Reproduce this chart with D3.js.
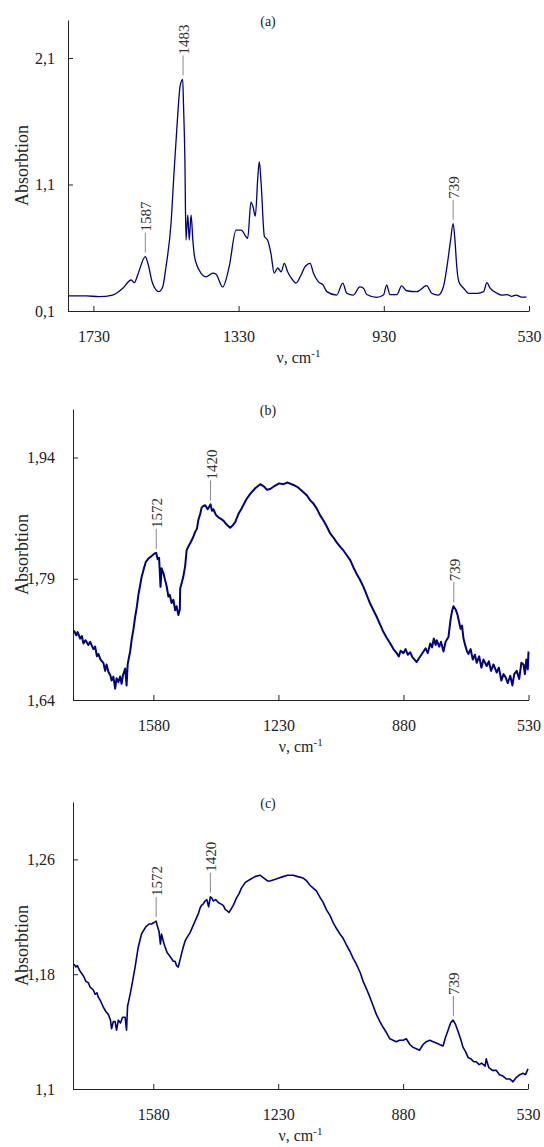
<!DOCTYPE html>
<html>
<head>
<meta charset="UTF-8">
<script src="https://cdn.jsdelivr.net/npm/d3@7"></script>
<style>
  body { margin: 0; background: #fff; }
  svg { display: block; font-family: "Liberation Serif", "Times New Roman", serif; }
</style>
</head>
<body>
<svg id="chart" width="544" height="1147"></svg>
<script>
// spectrum (a): [wavenumber, absorption]
const specA = [
  [1798,0.22],[1750,0.22],[1715,0.213],[1677,0.226],[1649,0.28],[1626,0.345],[1617,0.324],
  [1608,0.385],[1587,0.53],[1580,0.477],[1567,0.319],[1550,0.253],[1539,0.292],[1530,0.45],
  [1516,0.80],[1508,1.19],[1500,1.55],[1491,1.88],[1484,1.93],[1482,1.75],[1478,1.3],
  [1475,0.66],[1470,0.86],[1466,0.66],[1461,0.86],[1456,0.66],[1452,0.54],[1438,0.42],
  [1420,0.37],[1401,0.40],[1392,0.39],[1374,0.29],[1356,0.45],[1337,0.74],[1323,0.74],
  [1305,0.675],[1296,0.96],[1290,0.92],[1284,0.85],[1277,1.16],[1273,1.28],[1268,1.11],
  [1259,0.69],[1250,0.66],[1241,0.556],[1232,0.40],[1222,0.44],[1213,0.41],[1204,0.477],
  [1195,0.41],[1181,0.345],[1172,0.32],[1158,0.385],[1147,0.45],[1133,0.477],[1124,0.40],
  [1110,0.33],[1097,0.305],[1087,0.253],[1060,0.226],[1043,0.32],[1032,0.24],[1014,0.226],
  [996,0.29],[986,0.28],[977,0.23],[950,0.208],[931,0.226],[922,0.305],[913,0.23],[894,0.23],
  [881,0.298],[867,0.26],[839,0.253],[812,0.30],[798,0.24],[780,0.226],[766,0.29],[756,0.45],
  [746,0.66],[739,0.79],[734,0.66],[729,0.45],[723,0.33],[710,0.28],[696,0.24],[673,0.24],
  [655,0.253],[646,0.324],[637,0.28],[618,0.24],[605,0.226],[590,0.23],[578,0.216],
  [565,0.226],[551,0.21],[537,0.21]
];

// spectrum (b)
const specB = [
  [1802,1.726],[1796,1.720],[1792,1.724],[1785,1.716],[1780,1.719],[1776,1.710],[1770,1.714],
  [1762,1.708],[1757,1.712],[1748,1.703],[1743,1.706],[1738,1.694],[1734,1.697],[1728,1.690],
  [1720,1.686],[1715,1.676],[1711,1.684],[1706,1.675],[1700,1.670],[1697,1.664],[1692,1.669],
  [1687,1.654],[1683,1.667],[1678,1.662],[1673,1.669],[1669,1.660],[1665,1.671],[1659,1.679],
  [1655,1.658],[1652,1.684],[1650,1.689],[1645,1.700],[1641,1.714],[1636,1.727],[1631,1.743],
  [1626,1.756],[1622,1.770],[1617,1.782],[1613,1.792],[1607,1.802],[1601,1.811],[1594,1.815],
  [1585,1.818],[1578,1.821],[1572,1.822],[1568,1.814],[1564,1.816],[1560,1.780],[1557,1.803],
  [1552,1.797],[1547,1.788],[1543,1.781],[1538,1.768],[1534,1.770],[1529,1.760],[1524,1.764],
  [1519,1.751],[1515,1.756],[1510,1.745],[1506,1.752],[1505,1.778],[1500,1.786],[1496,1.793],
  [1491,1.806],[1487,1.825],[1482,1.830],[1477,1.834],[1470,1.840],[1463,1.848],[1458,1.852],
  [1454,1.863],[1449,1.870],[1445,1.878],[1440,1.880],[1435,1.881],[1428,1.876],[1420,1.882],
  [1416,1.874],[1412,1.876],[1405,1.869],[1398,1.866],[1391,1.864],[1384,1.862],[1375,1.857],
  [1365,1.853],[1358,1.856],[1351,1.860],[1342,1.870],[1333,1.877],[1320,1.888],[1309,1.895],
  [1295,1.902],[1281,1.907],[1270,1.904],[1262,1.900],[1253,1.901],[1240,1.905],[1228,1.908],
  [1216,1.907],[1204,1.909],[1188,1.906],[1175,1.903],[1160,1.897],[1150,1.893],[1141,1.887],
  [1132,1.883],[1123,1.877],[1114,1.869],[1104,1.862],[1095,1.855],[1085,1.846],[1076,1.841],
  [1067,1.835],[1058,1.830],[1048,1.825],[1040,1.820],[1029,1.813],[1020,1.804],[1011,1.796],
  [1002,1.789],[992,1.780],[983,1.770],[973,1.759],[964,1.751],[955,1.743],[945,1.733],
  [936,1.724],[927,1.717],[917,1.710],[908,1.703],[899,1.698],[893,1.694],[888,1.701],
  [880,1.698],[874,1.703],[868,1.696],[861,1.699],[855,1.693],[849,1.690],[843,1.687],
  [836,1.692],[830,1.696],[824,1.700],[818,1.704],[812,1.698],[805,1.710],[800,1.705],
  [795,1.716],[790,1.708],[787,1.714],[780,1.706],[775,1.712],[768,1.700],[762,1.712],
  [754,1.718],[748,1.740],[744,1.750],[740,1.756],[734,1.752],[729,1.746],[726,1.740],
  [720,1.728],[716,1.732],[712,1.716],[706,1.706],[702,1.700],[698,1.697],[692,1.703],
  [686,1.690],[680,1.696],[675,1.686],[668,1.694],[662,1.680],[656,1.690],[647,1.682],
  [641,1.688],[635,1.676],[628,1.684],[619,1.674],[613,1.680],[606,1.664],[600,1.672],
  [594,1.668],[588,1.661],[581,1.670],[575,1.658],[570,1.672],[563,1.676],[556,1.666],
  [550,1.686],[544,1.684],[540,1.672],[536,1.690],[532,1.678],[530,1.700]
];

// spectrum (c)
const specC = [
  [1802,1.187],[1797,1.185],[1793,1.186],[1785,1.182],[1779,1.180],[1774,1.178],[1769,1.175],
  [1762,1.174],[1757,1.171],[1748,1.169],[1743,1.166],[1738,1.167],[1734,1.164],[1727,1.161],
  [1720,1.157],[1713,1.154],[1706,1.152],[1700,1.148],[1697,1.142],[1692,1.147],[1687,1.147],
  [1683,1.141],[1678,1.148],[1672,1.146],[1666,1.150],[1659,1.150],[1655,1.141],[1652,1.158],
  [1650,1.160],[1645,1.166],[1641,1.171],[1636,1.178],[1631,1.185],[1626,1.193],[1622,1.199],
  [1617,1.204],[1613,1.208],[1606,1.211],[1601,1.213],[1592,1.215],[1585,1.215],[1578,1.216],
  [1572,1.217],[1568,1.213],[1564,1.210],[1560,1.201],[1557,1.208],[1552,1.203],[1547,1.199],
  [1541,1.195],[1535,1.193],[1529,1.191],[1524,1.189],[1519,1.189],[1515,1.186],[1510,1.185],
  [1505,1.190],[1501,1.194],[1496,1.199],[1491,1.203],[1487,1.205],[1477,1.209],[1470,1.213],
  [1463,1.217],[1454,1.222],[1449,1.226],[1445,1.228],[1440,1.229],[1435,1.231],[1430,1.232],
  [1425,1.227],[1420,1.234],[1416,1.233],[1412,1.231],[1405,1.232],[1398,1.230],[1391,1.229],
  [1384,1.228],[1378,1.225],[1372,1.224],[1368,1.223],[1363,1.225],[1356,1.228],[1347,1.233],
  [1340,1.236],[1333,1.240],[1322,1.244],[1309,1.246],[1295,1.248],[1281,1.249],[1270,1.247],
  [1260,1.245],[1253,1.245],[1240,1.246],[1228,1.247],[1216,1.248],[1204,1.249],[1188,1.249],
  [1175,1.248],[1160,1.247],[1150,1.245],[1141,1.242],[1132,1.240],[1123,1.238],[1114,1.234],
  [1104,1.230],[1095,1.225],[1085,1.221],[1076,1.216],[1067,1.212],[1057,1.208],[1048,1.205],
  [1038,1.200],[1029,1.196],[1020,1.191],[1011,1.187],[1000,1.181],[992,1.175],[983,1.170],
  [973,1.164],[964,1.158],[955,1.152],[945,1.147],[936,1.143],[926,1.139],[917,1.135],
  [908,1.134],[899,1.133],[890,1.134],[880,1.134],[871,1.135],[861,1.131],[852,1.129],
  [843,1.128],[834,1.127],[824,1.131],[815,1.133],[805,1.134],[796,1.133],[787,1.132],
  [778,1.131],[768,1.130],[761,1.136],[754,1.141],[747,1.146],[740,1.148],[733,1.145],
  [726,1.140],[719,1.135],[712,1.129],[705,1.126],[698,1.122],[690,1.121],[682,1.119],
  [675,1.119],[667,1.117],[660,1.118],[650,1.116],[647,1.121],[640,1.115],[630,1.113],
  [619,1.113],[610,1.110],[600,1.109],[591,1.107],[581,1.107],[572,1.105],[563,1.108],
  [553,1.110],[544,1.111],[537,1.110],[530,1.114]
];

// peak labels: [wavenumber, absorption at peak top]
const peaksA = [[1587,0.53],[1483,1.93],[739,0.79]];
const peaksB = [[1572,1.822],[1420,1.882],[739,1.756]];
const peaksC = [[1572,1.217],[1420,1.234],[739,1.148]];

const xTicksA = [1730,1330,930,530];
const xTicksBC = [1580,1230,880,530];
const yTicksA = [0.1,1.1,2.1];
const yTicksB = [1.64,1.79,1.94];
const yTicksC = [1.1,1.18,1.26];

const svg = d3.select("#chart");
const navy = "#000080";
const comma = v => String(v).replace(".", ",");

function drawPanel(p) {
    const x = d3.scaleLinear().domain(p.xDomain).range([p.left, p.right]);
    const y = d3.scaleLinear().domain(p.yDomain).range([p.bottom, p.top]);
    const g = svg.append("g");

    // x axis (ticks pointing inward)
    g.append("g")
        .attr("transform", `translate(0,${p.bottom})`)
        .call(d3.axisBottom(x).tickValues(p.xTicks).tickSize(-5).tickSizeOuter(0).tickFormat(d => d))
        .call(ax => ax.select(".domain").attr("stroke", "#222"))
        .call(ax => ax.selectAll(".tick line").attr("stroke", "#222"))
        .call(ax => ax.selectAll(".tick text")
            .attr("y", 31).attr("dy", 0)
            .attr("font-size", 16).attr("fill", "#222")
            .attr("font-family", "Liberation Serif"));

    // y axis
    g.append("g")
        .attr("transform", `translate(${p.left},0)`)
        .call(d3.axisLeft(y).tickValues(p.yTicks).tickSize(-5).tickSizeOuter(0).tickFormat(comma))
        .call(ax => ax.select(".domain").attr("stroke", "#222"))
        .call(ax => ax.selectAll(".tick line").attr("stroke", "#222"))
        .call(ax => ax.selectAll(".tick text")
            .attr("x", 55 - p.left)
            .attr("font-size", 16).attr("fill", "#222")
            .attr("font-family", "Liberation Serif"));

    // title
    g.append("text")
        .attr("x", 268).attr("y", p.top + 6)
        .attr("text-anchor", "middle")
        .attr("font-size", 14).attr("fill", "#222")
        .text(p.title);

    // y label
    g.append("text")
        .attr("transform", `translate(22,${(p.top + p.bottom) / 2}) rotate(-90)`)
        .attr("text-anchor", "middle")
        .attr("dominant-baseline", "central")
        .attr("font-size", 18).attr("fill", "#222")
        .text("Absorbtion");

    // x label
    const xl = g.append("text")
        .attr("x", (p.left + p.right) / 2).attr("y", p.bottom + 52)
        .attr("text-anchor", "middle")
        .attr("font-size", 16).attr("fill", "#222");
    xl.append("tspan").text("ν, cm");
    xl.append("tspan").attr("dy", -6).attr("font-size", 11).text("-1");

    // spectrum
    g.append("path")
        .datum(p.data)
        .attr("fill", "none")
        .attr("stroke", navy)
        .attr("stroke-width", p.width)
        .attr("stroke-linejoin", "round")
        .attr("d", d3.line().curve(p.curve).x(d => x(d[0])).y(d => y(d[1])));

    // peak labels
    const pk = g.selectAll(".peak").data(p.peaks).enter().append("g");
    pk.append("line")
        .attr("x1", d => x(d[0])).attr("x2", d => x(d[0]))
        .attr("y1", d => y(d[1]) - 4).attr("y2", d => y(d[1]) - 24)
        .attr("stroke", "#888").attr("stroke-width", 1);
    pk.append("text")
        .attr("transform", d => `translate(${x(d[0]) + 1},${y(d[1]) - 25}) rotate(-90)`)
        .attr("dominant-baseline", "central")
        .attr("font-size", 15).attr("fill", "#333")
        .text(d => d[0]);
}

drawPanel({ title: "(a)", data: specA, peaks: peaksA, xTicks: xTicksA, yTicks: yTicksA, curve: d3.curveMonotoneX,
    xDomain: [1800, 530], yDomain: [0.1, 2.4], left: 68, right: 529, top: 20, bottom: 311, width: 1.3 });
drawPanel({ title: "(b)", data: specB, peaks: peaksB, xTicks: xTicksBC, yTicks: yTicksB, curve: d3.curveLinear,
    xDomain: [1805, 530], yDomain: [1.64, 2.0], left: 73, right: 528.5, top: 409, bottom: 700, width: 2.0 });
drawPanel({ title: "(c)", data: specC, peaks: peaksC, xTicks: xTicksBC, yTicks: yTicksC, curve: d3.curveLinear,
    xDomain: [1805, 530], yDomain: [1.1, 1.3], left: 73, right: 528, top: 802, bottom: 1089, width: 1.6 });
</script>
</body>
</html>
